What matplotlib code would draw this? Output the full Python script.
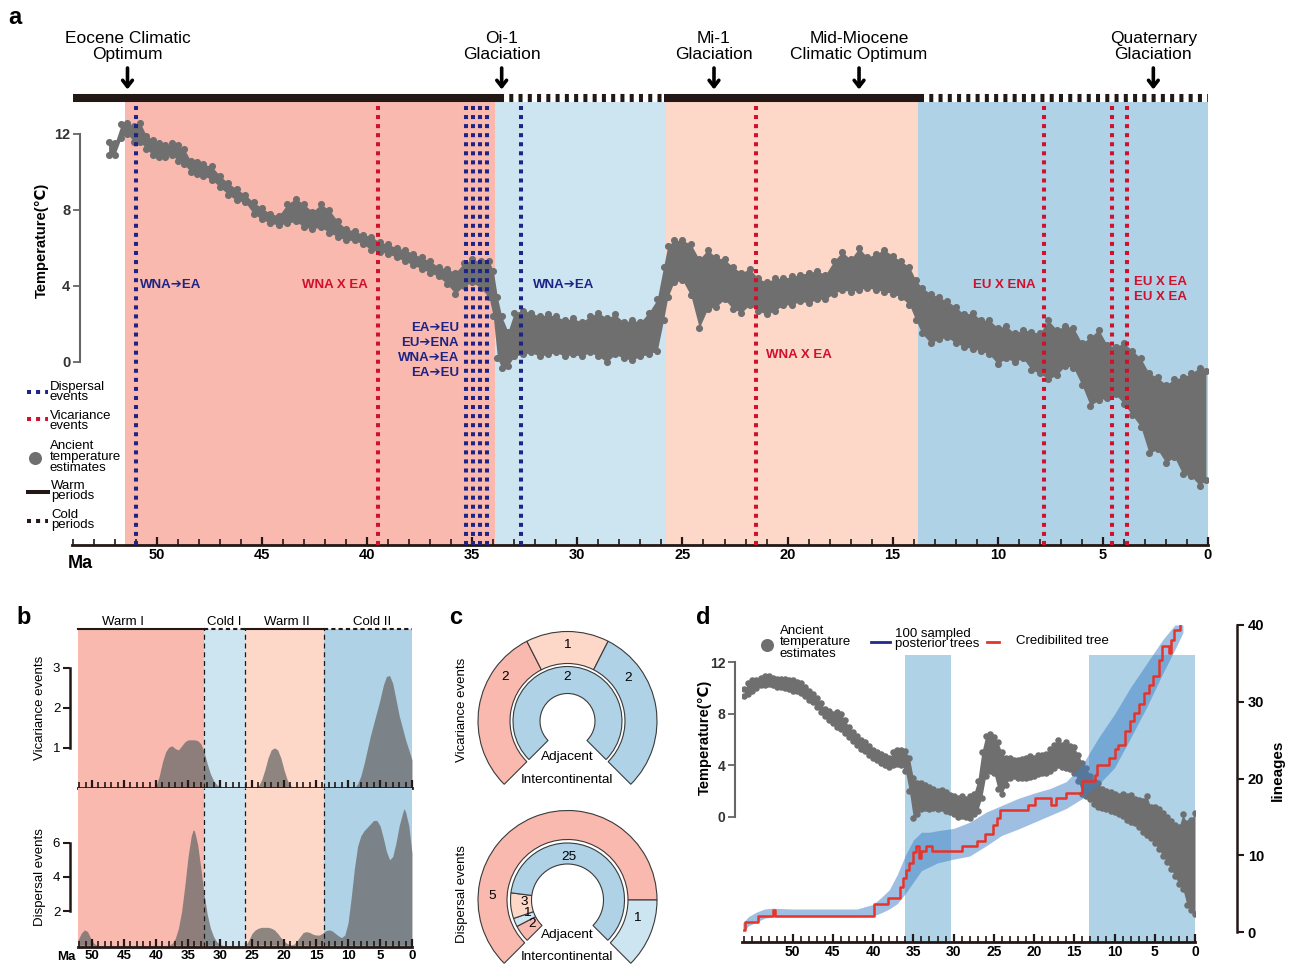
import matplotlib
matplotlib.use("Agg")
import matplotlib.pyplot as plt
from matplotlib.ticker import MultipleLocator

plt.rcParams['font.family'] = ['Liberation Sans', 'DejaVu Sans']

W, H = 1296, 964

WARM1 = '#F9B9AE'
COLD1 = '#CDE4F1'
WARM2 = '#FDD8C8'
COLD2 = '#AFD2E7'
GREY = '#6F6F6F'
DISP = '#1E2486'
VIC = '#D0102C'
INK = '#231815'

# ---------------- panel a data ----------------
period_start = [51.5, 33.9, 25.8, 13.8]
period_end = [33.9, 25.8, 13.8, 0.0]
period_colors = [WARM1, COLD1, WARM2, COLD2]

bar_edges = [54.0, 33.7, 25.9, 13.7, 0.0]
bar_warm = [True, False, True, False]

climate_events = ['Eocene Climatic\nOptimum', 'Oi-1\nGlaciation', 'Mi-1\nGlaciation',
                  'Mid-Miocene\nClimatic Optimum', 'Quaternary\nGlaciation']
climate_ages = [51.4, 33.6, 23.5, 16.6, 2.6]

dispersal_ages = [51.0, 35.3, 34.97, 34.63, 34.3, 32.7]
vicariance_ages = [39.5, 21.5, 7.8, 4.55, 3.85]

event_text = ['WNA➔EA', 'WNA X EA', 'EA➔EU', 'EU➔ENA', 'WNA➔EA', 'EA➔EU',
              'WNA➔EA', 'WNA X EA', 'EU X ENA', 'EU X EA', 'EU X EA']
event_x = [50.8, 39.96, 35.63, 35.63, 35.63, 35.63, 32.11, 21.03, 8.18, 3.52, 3.52]
event_y = [4.05, 4.05, 1.79, 1.0, 0.21, -0.58, 4.05, 0.37, 4.05, 4.21, 3.42]
event_ha = ['left', 'right', 'right', 'right', 'right', 'right', 'left', 'left', 'right', 'left', 'left']
event_kind = ['d', 'v', 'd', 'd', 'd', 'd', 'd', 'v', 'v', 'v', 'v']

temp_age = [52.3, 52.0, 51.7, 51.4, 51.1, 50.8, 50.5, 50.2, 49.9, 49.6, 49.3, 49.0, 48.7, 48.4,
            48.1, 47.8, 47.4, 47.0, 46.6, 46.2, 45.8, 45.4, 45.0, 44.6, 44.2, 43.8, 43.4, 43.0,
            42.6, 42.2, 41.8, 41.4, 41.0, 40.6, 40.2, 39.8, 39.4, 39.0, 38.6, 38.2, 37.8, 37.4,
            37.0, 36.6, 36.2, 35.8, 35.4, 35.0, 34.6, 34.2, 34.0, 33.8, 33.6, 33.3, 33.0, 32.6,
            32.2, 31.8, 31.4, 31.0, 30.6, 30.2, 29.8, 29.4, 29.0, 28.6, 28.2, 27.8, 27.4, 27.0,
            26.6, 26.2, 25.9, 25.7, 25.4, 25.0, 24.6, 24.2, 23.8, 23.4, 23.0, 22.6, 22.2, 21.8,
            21.4, 21.0, 20.6, 20.2, 19.8, 19.4, 19.0, 18.6, 18.2, 17.8, 17.4, 17.0, 16.6, 16.2,
            15.8, 15.4, 15.0, 14.6, 14.2, 13.9, 13.6, 13.2, 12.8, 12.4, 12.0, 11.6, 11.2, 10.8,
            10.4, 10.0, 9.6, 9.2, 8.8, 8.4, 8.0, 7.6, 7.2, 6.8, 6.4, 6.0, 5.6, 5.2, 4.8, 4.4,
            4.0, 3.6, 3.2, 2.8, 2.4, 2.0, 1.6, 1.2, 0.8, 0.4, 0.1]
temp_lo = [10.9, 10.9, 11.8, 12.0, 11.6, 11.6, 11.2, 10.9, 10.8, 10.8, 10.9, 10.6, 10.4, 10.0,
           9.9, 9.8, 9.6, 9.2, 8.8, 8.5, 8.4, 7.8, 7.5, 7.3, 7.2, 7.3, 7.4, 7.1,
           7.0, 7.1, 6.8, 6.6, 6.4, 6.4, 6.2, 5.9, 5.8, 5.7, 5.5, 5.3, 5.1, 4.9,
           4.7, 4.5, 4.1, 3.6, 4.0, 4.2, 3.9, 3.4, 2.4, 0.2, -0.3, -0.2, 0.3, 0.4,
           0.5, 0.3, 0.4, 0.5, 0.3, 0.4, 0.3, 0.5, 0.3, 0.0, 0.4, 0.2, 0.1, 0.3,
           0.4, 0.6, 2.2, 3.4, 4.2, 4.3, 3.5, 1.8, 2.8, 2.9, 3.3, 2.8, 2.6, 3.0,
           2.7, 2.5, 2.7, 3.0, 3.0, 3.2, 3.1, 3.3, 3.3, 3.6, 3.8, 3.7, 3.8, 3.9,
           3.8, 3.7, 3.6, 3.4, 3.0, 2.2, 1.5, 1.0, 1.2, 1.3, 1.0, 0.8, 0.7, 0.6,
           0.4, -0.1, 0.2, 0.0, 0.2, -0.4, -0.6, -0.9, -0.7, -0.2, -0.3, -1.2, -2.3, -2.0, -1.9, -1.7,
           -2.2, -2.8, -3.4, -4.8, -4.6, -5.3, -5.0, -5.9, -6.0, -6.5, -6.2]
temp_hi = [11.6, 11.5, 12.5, 12.6, 12.4, 12.6, 11.9, 11.7, 11.5, 11.4, 11.5, 11.4, 11.2, 10.6,
           10.5, 10.4, 10.3, 9.8, 9.4, 9.1, 8.8, 8.4, 8.1, 7.8, 7.7, 8.3, 8.6, 8.3,
           7.9, 8.3, 8.0, 7.4, 7.0, 6.9, 6.7, 6.6, 6.3, 6.2, 6.0, 5.9, 5.7, 5.5,
           5.3, 5.0, 4.9, 4.7, 5.2, 5.4, 5.3, 5.3, 4.8, 3.4, 2.4, 1.6, 2.6, 2.7,
           2.6, 2.4, 2.5, 2.4, 2.2, 2.3, 2.1, 2.4, 2.6, 2.3, 2.5, 2.1, 2.2, 2.1,
           2.6, 3.3, 5.0, 6.1, 6.4, 6.4, 6.2, 5.4, 5.9, 5.5, 5.4, 5.0, 4.7, 4.9,
           4.4, 4.2, 4.4, 4.4, 4.5, 4.6, 4.7, 4.8, 4.6, 5.3, 5.8, 5.4, 6.0, 5.5,
           5.7, 5.9, 5.6, 5.3, 5.0, 4.3, 3.9, 3.6, 3.4, 3.2, 2.9, 2.5, 2.6, 2.2,
           2.2, 1.8, 1.9, 1.5, 1.7, 1.6, 1.5, 2.2, 1.7, 1.9, 1.8, 1.0, 1.3, 1.7, 0.9, 0.8,
           1.0, 0.6, 0.2, -0.6, -0.8, -1.2, -0.9, -0.8, -0.6, -0.3, -0.5]

# ---------------- panel b data ----------------
b_start = [52.2, 32.5, 26.1, 13.75]
b_end = [32.5, 26.1, 13.75, 0.0]
b_names = ['Warm I', 'Cold I', 'Warm II', 'Cold II']
b_name_x = [45.2, 29.4, 19.5, 6.3]

vic_age = [52.2, 41.0, 40.0, 39.5, 39.0, 38.5, 38.0, 37.5, 37.0, 36.5, 36.0, 35.5, 35.0, 34.5,
           34.0, 33.5, 33.0, 32.5, 32.0, 31.5, 31.0, 30.5, 30.0, 29.5, 25.0, 24.0, 23.5, 23.0,
           22.5, 22.0, 21.5, 21.0, 20.5, 20.0, 19.5, 19.0, 18.5, 9.0, 8.5, 8.0, 7.5, 7.0, 6.5,
           6.0, 5.5, 5.0, 4.5, 4.0, 3.5, 3.0, 2.5, 2.0, 1.5, 1.0, 0.5, 0.0]
vic_val = [0, 0, 0.05, 0.3, 0.65, 0.9, 1.02, 1.05, 0.98, 0.95, 1.05, 1.15, 1.2, 1.2,
           1.2, 1.18, 1.1, 0.9, 0.6, 0.35, 0.18, 0.08, 0.02, 0, 0, 0.05, 0.2, 0.45,
           0.75, 0.95, 1.0, 0.95, 0.75, 0.45, 0.2, 0.06, 0, 0, 0.1, 0.3, 0.6, 0.95, 1.3,
           1.6, 1.9, 2.2, 2.55, 2.78, 2.8, 2.6, 2.2, 1.8, 1.5, 1.2, 0.95, 0.7]

disp_age = [52.2, 51.7, 51.2, 50.7, 50.2, 49.7, 49.2, 38.0, 37.5, 37.0, 36.5, 36.0, 35.5, 35.0,
            34.5, 34.2, 34.0, 33.5, 33.0, 32.5, 32.0, 31.5, 31.0, 30.5, 30.0, 29.5, 26.0, 25.5,
            25.0, 24.5, 24.0, 23.5, 23.0, 22.5, 22.0, 21.5, 21.0, 20.5, 20.0, 19.5, 19.0, 18.5,
            18.0, 17.5, 17.0, 16.5, 16.0, 15.5, 15.0, 14.5, 14.0, 13.5, 13.0, 12.5, 12.0, 11.5,
            11.0, 10.5, 10.0, 9.5, 9.0, 8.5, 8.0, 7.5, 7.0, 6.5, 6.0, 5.5, 5.0, 4.5, 4.0, 3.5,
            3.0, 2.5, 2.0, 1.5, 1.25, 1.0, 0.5, 0.0]
disp_val = [0.3, 0.7, 0.9, 0.8, 0.4, 0.1, 0, 0, 0.1, 0.4, 1.0, 2.0, 3.5, 5.2,
            6.4, 6.75, 6.7, 5.9, 4.5, 3.0, 1.8, 1.0, 0.5, 0.2, 0.05, 0, 0, 0.3,
            0.7, 0.9, 1.0, 1.05, 1.05, 1.05, 1.0, 0.9, 0.7, 0.45, 0.25, 0.1, 0.03, 0.05,
            0.25, 0.5, 0.75, 0.8, 0.75, 0.65, 0.6, 0.6, 0.7, 0.85, 0.9, 0.85, 0.7, 0.55,
            0.45, 0.6, 1.3, 2.8, 4.5, 5.8, 6.4, 6.7, 6.9, 7.1, 7.3, 7.3, 7.0, 6.3, 5.5, 5.0,
            5.2, 6.0, 7.0, 7.7, 8.0, 7.8, 7.0, 5.4]

# ---------------- panel c data ----------------
vic_outer = [2, 1, 2]
vic_outer_colors = [WARM1, WARM2, COLD2]
vic_inner = [2]
vic_inner_colors = [COLD2]
disp_outer = [5, 1]
disp_outer_colors = [WARM1, COLD1]
disp_inner = [2, 1, 3, 25]
disp_inner_colors = [WARM1, COLD1, WARM2, COLD2]

# ---------------- panel d data ----------------
d_age = [56.0, 55.5, 55.0, 54.5, 54.0, 53.5, 53.0, 52.5, 52.0, 51.5, 51.0, 50.5, 50.0, 49.5,
         49.0, 48.5, 48.0, 47.5, 47.0, 46.5, 46.0, 45.5, 45.0, 44.5, 44.0, 43.5, 43.0, 42.5,
         42.0, 41.5, 41.0, 40.5, 40.0, 39.5, 39.0, 38.5, 38.0, 37.5, 37.0, 36.5, 36.0, 35.5,
         35.0, 34.5, 34.0, 33.5, 33.0, 32.5, 32.0, 31.5, 31.0, 30.5, 30.0, 29.5, 29.0, 28.5,
         28.0, 27.5, 27.0, 26.5, 26.0, 25.5, 25.0, 24.5, 24.0, 23.5, 23.0, 22.5, 22.0, 21.5,
         21.0, 20.5, 20.0, 19.5, 19.0, 18.5, 18.0, 17.5, 17.0, 16.5, 16.0, 15.5, 15.0, 14.5,
         14.0, 13.5, 13.0, 12.5, 12.0, 11.5, 11.0, 10.5, 10.0, 9.5, 9.0, 8.5, 8.0, 7.5,
         7.0, 6.5, 6.0, 5.5, 5.0, 4.5, 4.0, 3.5, 3.0, 2.5, 2.0, 1.5, 1.0, 0.5, 0.0]
d_lo = [9.4, 9.5, 9.8, 10.0, 10.2, 10.2, 10.3, 10.2, 10.1, 10.1, 10.0, 9.9, 9.8, 9.8,
        9.6, 9.4, 9.1, 8.9, 8.5, 8.1, 7.8, 7.5, 7.3, 7.0, 6.8, 6.5, 6.2, 5.9,
        5.6, 5.3, 5.1, 4.8, 4.6, 4.4, 4.2, 4.0, 3.9, 4.0, 4.1, 4.0, 3.6, 2.0,
        -0.1, 0.2, 0.6, 0.7, 0.6, 0.7, 0.6, 0.7, 0.5, 0.4, 0.2, 0.0, 0.1, 0.0,
        -0.1, 0.2, 0.5, 1.5, 3.2, 3.6, 3.4, 2.2, 1.8, 2.5, 3.0, 3.2, 3.0, 3.0,
        3.0, 3.1, 3.2, 3.3, 3.4, 3.4, 3.6, 3.8, 4.0, 3.9, 3.8, 3.7, 3.4, 2.8,
        1.8, 1.6, 1.4, 1.0, 0.8, 0.7, 0.6, 0.5, 0.4, 0.2, 0.1, -0.2, -0.4, -0.5,
        -0.8, -1.2, -1.4, -1.6, -2.0, -2.5, -3.0, -3.5, -4.0, -4.6, -5.2, -5.6, -6.8, -7.2, -7.5]
d_hi = [9.9, 10.4, 10.6, 10.6, 10.8, 10.9, 10.9, 10.8, 10.7, 10.7, 10.7, 10.6, 10.6, 10.5,
        10.4, 10.1, 9.8, 9.5, 9.2, 8.8, 8.4, 8.2, 8.0, 8.1, 8.0, 7.5, 7.0, 6.6,
        6.3, 6.0, 5.8, 5.5, 5.2, 5.0, 4.9, 4.7, 4.6, 5.0, 5.2, 5.2, 5.1, 4.6,
        3.0, 2.6, 2.6, 2.5, 2.3, 2.2, 2.0, 2.1, 1.9, 1.7, 1.6, 1.5, 1.6, 1.4,
        1.6, 1.8, 2.8, 5.0, 6.3, 6.4, 6.2, 5.8, 5.0, 4.6, 4.6, 4.4, 4.4, 4.5,
        4.6, 4.7, 4.6, 4.8, 4.8, 4.9, 5.3, 5.6, 6.0, 5.6, 5.8, 5.5, 5.4, 4.8,
        4.2, 3.8, 3.2, 2.8, 2.6, 2.2, 2.0, 1.9, 1.8, 1.6, 1.8, 1.6, 1.7, 1.4,
        1.3, 1.2, 1.6, 0.8, 0.8, 0.6, 0.3, 0.0, -0.3, -0.6, -0.8, 0.2, -0.5, -0.2, 0.3]

ltt_age = [56.1, 55.9, 54.3, 52.5, 52.2, 39.85, 38.1, 36.65, 36.3, 35.95, 35.55, 35.1, 34.7,
           34.3, 34.05, 33.45, 32.65, 28.95, 27.05, 26.05, 25.1, 24.55, 24.25, 20.8, 19.85,
           17.9, 17.3, 16.0, 14.05, 12.4, 12.2, 10.7, 10.0, 9.6, 8.65, 8.05, 7.6, 7.0, 6.4,
           5.75, 5.2, 4.45, 4.15, 3.25, 3.0, 2.55, 1.9, 1.8]
ltt_n = [0.3, 1.3, 2.1, 2.9, 2.1, 3.7, 4.4, 5.9, 7.0, 8.1, 9.0, 10.4, 11.2,
         9.7, 10.6, 11.2, 10.6, 11.2, 11.9, 12.8, 13.9, 14.8, 15.9, 16.5, 17.4,
         16.6, 17.4, 18.1, 19.7, 20.5, 21.8, 22.7, 23.8, 24.4, 26.2, 27.5, 28.6, 29.7, 31.1,
         32.2, 33.3, 35.5, 37.2, 36.3, 38.1, 39.4, 40.4, 40.4]

band_age = [56.2, 55.5, 54.5, 53.5, 52.5, 50, 45, 42, 40, 39, 38, 37, 36, 35, 34, 33, 32, 30,
            28, 26, 24, 22, 20, 18, 16, 14, 12, 10, 8, 6, 4, 2.5, 1.5]
band_lo = [0.0, 0.8, 1.3, 1.8, 2.0, 2.0, 2.0, 2.0, 2.1, 2.5, 3.0, 3.7, 5.0, 6.5, 8.0, 8.5, 9.0,
           9.5, 9.9, 11.2, 12.6, 13.4, 14.3, 15.2, 16.1, 17.4, 19.2, 21.4, 25.3, 29.3, 33.7,
           36.8, 39.0]
band_hi = [1.2, 2.0, 2.6, 3.0, 3.1, 3.0, 3.0, 3.0, 3.6, 4.5, 5.5, 7.5, 10.0, 12.0, 13.0, 13.0,
           13.2, 13.5, 14.3, 15.6, 16.5, 17.4, 18.1, 18.7, 19.6, 21.8, 25.3, 28.4, 31.9, 35.0,
           38.1, 40.0, 40.0]

fig = plt.figure(figsize=(W / 100, H / 100), dpi=100)


def px_axes(x0, y0, x1, y1, **kw):
    return fig.add_axes([x0 / W, 1 - y1 / H, (x1 - x0) / W, (y1 - y0) / H], **kw)


def time_axis(axis, labels=True, size=10.5):
    axis.set_xticks(range(0, 51, 5))
    axis.xaxis.set_minor_locator(MultipleLocator(1))
    axis.tick_params(axis='x', which='major', direction='in', length=6, width=1.6, color=INK, pad=2,
                     labelsize=size, labelbottom=labels)
    axis.tick_params(axis='x', which='minor', direction='in', length=4, width=1.2, color=INK)
    for lab in axis.get_xticklabels():
        lab.set_fontweight('bold')
    axis.spines['bottom'].set_linewidth(2)
    axis.spines['bottom'].set_color(INK)
    axis.spines['top'].set_visible(False)
    axis.spines['right'].set_visible(False)


DOT = (0, (1, 1.25))

# ================= panel a =================
ax = px_axes(72, 102, 1208, 545)
ax.set_xlim(54.04, 0)
ax.set_ylim(-9.63, 13.68)
for s, e, c in zip(period_start, period_end, period_colors):
    ax.axvspan(s, e, color=c, lw=0, zorder=0)
ax.fill_between(temp_age, temp_lo, temp_hi, color=GREY, lw=0, zorder=2)
ax.scatter(temp_age + temp_age, temp_lo + temp_hi, s=26, color=GREY, lw=0, zorder=2)
for a in dispersal_ages:
    ax.axvline(a, color=DISP, lw=2.9, ls=DOT, zorder=3)
for a in vicariance_ages:
    ax.axvline(a, color=VIC, lw=2.9, ls=DOT, zorder=3)
for t, x, y, ha, k in zip(event_text, event_x, event_y, event_ha, event_kind):
    ax.text(x, y, t, ha=ha, va='center', fontsize=9.5, fontweight='bold',
            color=DISP if k == 'd' else VIC, zorder=5)

time_axis(ax)
ax.spines['left'].set_position(('outward', -5.8))
ax.spines['left'].set_bounds(0, 12)
ax.spines['left'].set_color('#666666')
ax.spines['left'].set_linewidth(1.5)
ax.set_yticks([0, 4, 8, 12])
ax.tick_params(axis='y', direction='out', length=5, width=1.3, color='#666666', labelsize=10.5,
               labelcolor='#333333', pad=2)
for lab in ax.get_yticklabels():
    lab.set_fontweight('bold')

trans = ax.get_xaxis_transform()
for i, warm in enumerate(bar_warm):
    seg = [bar_edges[i], bar_edges[i + 1]]
    if warm:
        ax.plot(seg, [1.009, 1.009], transform=trans, color=INK, lw=5.8,
                solid_capstyle='butt', clip_on=False)
    else:
        ax.plot(seg, [1.009, 1.009], transform=trans, color=INK, lw=5.8,
                ls=(0, (0.5, 0.65)), dash_capstyle='butt', clip_on=False)
for name, age in zip(climate_events, climate_ages):
    ax.text(age, 1.126, name, transform=trans, ha='center', va='center', fontsize=12.5,
            linespacing=1.1)
    ax.annotate('', xy=(age, 1.022), xytext=(age, 1.083), xycoords=trans, textcoords=trans,
                arrowprops=dict(arrowstyle='->,head_width=0.35,head_length=0.45', lw=2.6,
                                color='black'), annotation_clip=False)

# ================= panel b =================
axv = px_axes(78, 629, 412, 788)
axdp = px_axes(78, 788, 412, 947)
for axb in (axv, axdp):
    axb.set_xlim(52.2, 0)
    for s, e, c in zip(b_start, b_end, period_colors):
        axb.axvspan(s, e, color=c, lw=0, zorder=0)
    for e in b_end[:-1]:
        axb.axvline(e, color=INK, lw=0.9, ls=(0, (4, 3)), zorder=3)
    axb.spines['left'].set_position(('outward', 5.8))
    axb.spines['left'].set_color(INK)
    axb.spines['left'].set_linewidth(1.8)
    axb.tick_params(axis='y', direction='out', length=5, width=1.5, color=INK, labelsize=9.5, pad=2)

axv.fill_between(vic_age, 0, vic_val, color='#6B6B6B', alpha=0.76, lw=0, zorder=1)
axv.set_ylim(0, 3.96)
axv.set_yticks([1, 2, 3])
axv.spines['left'].set_bounds(1, 3)
time_axis(axv, labels=False)

axdp.fill_between(disp_age, 0, disp_val, color='#6B6B6B', alpha=0.76, lw=0, zorder=1)
axdp.set_ylim(-0.1, 9.2)
axdp.set_yticks([2, 4, 6])
axdp.spines['left'].set_bounds(2, 6)
time_axis(axdp, labels=True, size=9.5)

tb = axv.get_xaxis_transform()
for i, (s, e) in enumerate(zip(b_start, b_end)):
    if i % 2 == 0:
        axv.plot([s, e], [1, 1], transform=tb, color=INK, lw=1.5, clip_on=False)
    else:
        axv.plot([s, e], [1, 1], transform=tb, color=INK, lw=1.5, ls=(0, (2, 1.5)), clip_on=False)
for name, x in zip(b_names, b_name_x):
    axv.text(x, 1.046, name, transform=tb, ha='center', va='center', fontsize=9.5)

# ================= panel c =================
axc = fig.add_axes([440 / W, -4 / H, 260 / W, 348 / H])


def ring(values, colors, r, width, cy):
    gap = sum(values) / 3.0
    wedges, _ = axc.pie(values + [gap], colors=colors + ['white'], radius=r, center=(567.5, cy),
                        startangle=225, counterclock=False,
                        wedgeprops=dict(width=width, edgecolor='#3A3A3A', linewidth=0.8))
    wedges[-1].set_visible(False)


ring(vic_outer, vic_outer_colors, 89.5, 32, 964 - 721)
ring(vic_inner, vic_inner_colors, 54.5, 27, 964 - 721)
ring(disp_outer, disp_outer_colors, 89.5, 29, 964 - 900)
ring(disp_inner, disp_inner_colors, 57, 21, 964 - 900)
axc.set_xlim(440, 700)
axc.set_ylim(-4, 344)
axc.set_aspect('equal')
axc.axis('off')

c_labels = ['2', '1', '2', '2', 'Adjacent', 'Intercontinental',
            '5', '25', '3', '1', '2', '1', 'Adjacent', 'Intercontinental']
c_x = [505, 567, 567, 628, 567, 567, 492, 569, 524, 527, 532, 637, 567, 567]
c_y = [677, 645, 677, 678, 757, 780, 896, 857, 902, 913, 924, 918, 935, 957]
for t, x, y in zip(c_labels, c_x, c_y):
    axc.text(x, 964 - y, t, ha='center', va='center', fontsize=9.7)

# ================= panel d =================
axd = px_axes(742, 625, 1195, 942)
axd.set_xlim(56.3, 0)
axd.set_ylim(-9.69, 14.88)
axd.axvspan(36.07, 30.35, ymax=0.905, color=COLD2, lw=0, zorder=0)
axd.axvspan(13.18, 0, ymax=0.905, color=COLD2, lw=0, zorder=0)
axd.fill_between(d_age, d_lo, d_hi, color=GREY, lw=0, zorder=2)
axd.scatter(d_age + d_age, d_lo + d_hi, s=22, color=GREY, lw=0, zorder=2)
time_axis(axd, size=10)
axd.spines['left'].set_position(('outward', 5))
axd.spines['left'].set_bounds(0, 12)
axd.spines['left'].set_color('#666666')
axd.spines['left'].set_linewidth(1.5)
axd.set_yticks([0, 4, 8, 12])
axd.tick_params(axis='y', direction='out', length=5, width=1.3, color='#666666', labelsize=10,
                labelcolor='#333333', pad=2)
for lab in axd.get_yticklabels():
    lab.set_fontweight('bold')

axl = axd.twinx()
axl.set_ylim(-1.3, 40)
axl.set_xlim(56.3, 0)
axl.fill_between(band_age, band_lo, band_hi, color='#3F80C6', alpha=0.5, lw=0, zorder=1)
axl.plot(ltt_age, ltt_n, color='#E8332A', lw=1.8, drawstyle='steps-post', zorder=4)
for side in ('left', 'top', 'bottom'):
    axl.spines[side].set_visible(False)
axl.spines['right'].set_position(('outward', 30))
axl.spines['right'].set_bounds(0, 40)
axl.spines['right'].set_color(INK)
axl.spines['right'].set_linewidth(1.8)
axl.set_yticks([0, 10, 20, 30, 40])
axl.tick_params(axis='y', direction='out', length=5, width=1.5, color=INK, labelsize=10.5, pad=3)
for lab in axl.get_yticklabels():
    lab.set_fontweight('bold')

# ================= overlay: legends, labels =================
ov = fig.add_axes([0, 0, 1, 1], zorder=10)
ov.set_xlim(0, W)
ov.set_ylim(H, 0)
ov.axis('off')
ov.patch.set_visible(False)

ov.text(15, 18, 'a', fontsize=17, fontweight='bold', ha='center', va='center')
ov.text(24, 617, 'b', fontsize=17, fontweight='bold', ha='center', va='center')
ov.text(456, 617, 'c', fontsize=17, fontweight='bold', ha='center', va='center')
ov.text(703, 617, 'd', fontsize=17, fontweight='bold', ha='center', va='center')

# panel a legend
ov.plot([27, 48], [392, 392], color=DISP, lw=2.9, ls=DOT)
ov.text(50, 392, 'Dispersal\nevents', va='center', fontsize=9.5, linespacing=0.85)
ov.plot([27, 48], [419, 419], color=VIC, lw=2.9, ls=DOT)
ov.text(50, 421, 'Vicariance\nevents', va='center', fontsize=9.5, linespacing=0.85)
ov.plot([35], [458], 'o', color=GREY, ms=9.4, mec='none')
ov.text(50, 457, 'Ancient\ntemperature\nestimates', va='center', fontsize=9.5, linespacing=0.85)
ov.plot([26, 50], [492, 492], color=INK, lw=2.9, solid_capstyle='butt')
ov.text(51, 491, 'Warm\nperiods', va='center', fontsize=9.5, linespacing=0.85)
ov.plot([27, 48], [521, 521], color=INK, lw=2.9, ls=DOT)
ov.text(51, 520, 'Cold\nperiods', va='center', fontsize=9.5, linespacing=0.85)
ov.text(80, 563, 'Ma', fontsize=13, fontweight='bold', ha='center', va='center')
ov.text(42, 240, 'Temperature(℃)', rotation=90, fontsize=10.5, fontweight='bold',
        ha='center', va='center')

# panel b labels
ov.text(66, 957, 'Ma', fontsize=9.5, fontweight='bold', ha='center', va='center')
ov.text(40, 708, 'Vicariance events', rotation=90, fontsize=9.5, ha='center', va='center')
ov.text(40, 877, 'Dispersal events', rotation=90, fontsize=9.5, ha='center', va='center')

# panel c labels
ov.text(462, 710, 'Vicariance events', rotation=90, fontsize=9.5, ha='center', va='center')
ov.text(462, 894, 'Dispersal events', rotation=90, fontsize=9.5, ha='center', va='center')

# panel d legend and labels
ov.plot([767], [645], 'o', color=GREY, ms=9.4, mec='none')
ov.text(780, 642.5, 'Ancient\ntemperature\nestimates', va='center', fontsize=9.5, linespacing=0.95)
ov.plot([871, 890], [641.5, 641.5], color='#1F2A8C', lw=2)
ov.text(895, 639, '100 sampled\nposterior trees', va='center', fontsize=9.5, linespacing=0.85)
ov.plot([987, 999], [641.5, 641.5], color='#E8332A', lw=2)
ov.text(1016, 641.5, 'Credibilited tree', va='center', fontsize=9.5)
ov.text(705, 737, 'Temperature(℃)', rotation=90, fontsize=10.5, fontweight='bold',
        ha='center', va='center')
ov.text(1278, 770, 'lineages', rotation=90, fontsize=11, fontweight='bold',
        ha='center', va='center')

fig.savefig('out.png', dpi=100)
